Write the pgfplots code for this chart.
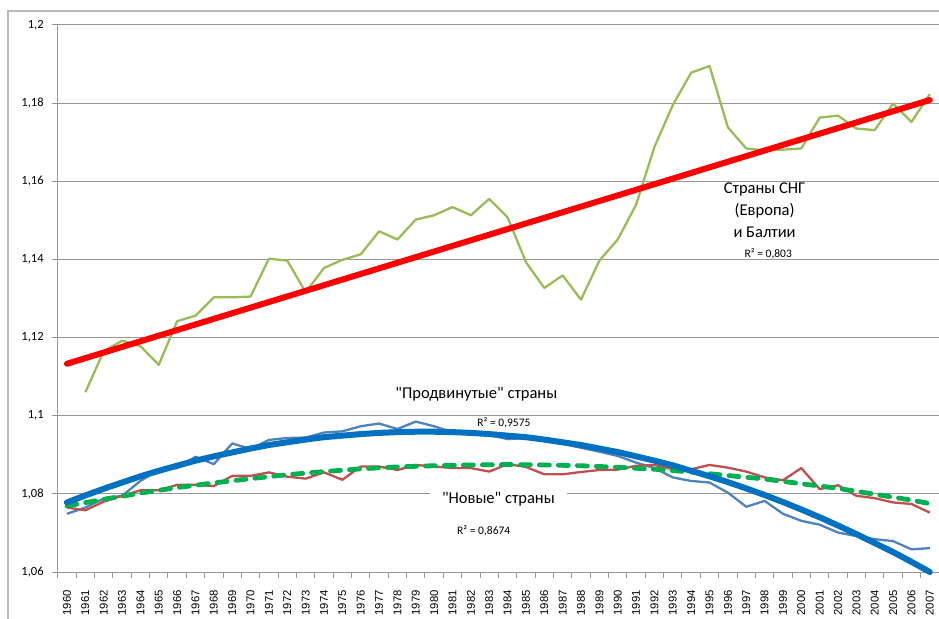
\documentclass[border=0pt]{standalone}
\usepackage{fontspec}
\setmainfont{Carlito}
\newfontfamily\calq{Carlito}
\newfontfamily\arialf{Liberation Sans}
\usepackage{pgfplots}
\pgfplotsset{compat=1.18}
\definecolor{cisg}{RGB}{155,187,89}
\definecolor{trendred}{RGB}{255,0,0}
\definecolor{advblue}{RGB}{79,129,189}
\definecolor{trendblue}{RGB}{0,112,192}
\definecolor{newred}{RGB}{192,80,77}
\definecolor{trendgreen}{RGB}{0,176,80}
\definecolor{gridc}{RGB}{150,150,150}
\definecolor{framec}{RGB}{185,185,185}
\begin{document}
\begin{tikzpicture}
\path[use as bounding box] (0bp,0bp) rectangle (939bp,619bp);
\draw[color=framec, line width=1.3bp] (8bp,-10bp) -- (8bp,608bp) -- (960bp,608bp);
\begin{axis}[
  at={(57.8bp,47bp)}, anchor=south west,
  scale only axis, width=881.2bp, height=547bp,
  xmin=1959.5, xmax=2007.5, ymin=1.06, ymax=1.2,
  axis lines*=left,
  axis line style={color=gridc, line width=1bp},
  xtick={1960,1961,...,2007},
  minor xtick={1959.5,1960.5,...,2007.5},
  ytick={1.06,1.08,1.1,1.12,1.14,1.16,1.18,1.2},
  tick align=outside,
  major tick length=6bp, minor tick length=6bp,
  major x tick style={draw=none},
  minor x tick style={color=gridc, line width=1bp},
  y tick style={color=gridc, line width=1bp},
  ymajorgrids,
  grid style={color=gridc, line width=1bp},
  /pgf/number format/assume math mode=true,
  xticklabel style={rotate=90, anchor=east, inner sep=0pt,
    font=\arialf\fontsize{11.3bp}{12bp}\selectfont,
    /pgf/number format/1000 sep={}},
  xticklabel shift=12bp,
  yticklabel style={anchor=east, inner sep=0pt,
    font=\fontsize{12.5bp}{14bp}\selectfont,
    /pgf/number format/use comma},
  yticklabel shift=8bp,
  clip=false,
]
% Strany SNG (Evropa) i Baltii
\addplot[color=cisg, line width=2.3bp, line join=round] coordinates {
(1961,1.1060) (1962,1.1165) (1963,1.1192) (1964,1.1178) (1965,1.1130)
(1966,1.1242) (1967,1.1256) (1968,1.1303) (1969,1.1303) (1970,1.1305)
(1971,1.1402) (1972,1.1397) (1973,1.1316) (1974,1.1378) (1975,1.1399)
(1976,1.1413) (1977,1.1472) (1978,1.1451) (1979,1.1502) (1980,1.1513)
(1981,1.1534) (1982,1.1513) (1983,1.1555) (1984,1.1508) (1985,1.1393)
(1986,1.1327) (1987,1.1359) (1988,1.1297) (1989,1.1397) (1990,1.1451)
(1991,1.1540) (1992,1.1688) (1993,1.1795) (1994,1.1878) (1995,1.1895)
(1996,1.1738) (1997,1.1684) (1998,1.1679) (1999,1.1681) (2000,1.1684)
(2001,1.1763) (2002,1.1768) (2003,1.1735) (2004,1.1731) (2005,1.1799)
(2006,1.1752) (2007,1.1823)};
% Prodvinutye strany
\addplot[color=advblue, line width=2.3bp, line join=round] coordinates {
(1960,1.0749) (1961,1.0765) (1962,1.0788) (1963,1.0795) (1964,1.0833)
(1965,1.0862) (1966,1.0866) (1967,1.0895) (1968,1.0876) (1969,1.0929)
(1970,1.0915) (1971,1.0938) (1972,1.0943) (1973,1.0944) (1974,1.0957)
(1975,1.0960) (1976,1.0973) (1977,1.0980) (1978,1.0966) (1979,1.0985)
(1980,1.0973) (1981,1.0957) (1982,1.0955) (1983,1.0951) (1984,1.0940)
(1985,1.0943) (1986,1.0935) (1987,1.0928) (1988,1.0918) (1989,1.0908)
(1990,1.0897) (1991,1.0880) (1992,1.0866) (1993,1.0842) (1994,1.0833)
(1995,1.0829) (1996,1.0803) (1997,1.0767) (1998,1.0782) (1999,1.0749)
(2000,1.0731) (2001,1.0721) (2002,1.0701) (2003,1.0692) (2004,1.0684)
(2005,1.0679) (2006,1.0658) (2007,1.0661)};
% Novye strany
\addplot[color=newred, line width=2.3bp, line join=round] coordinates {
(1960,1.0765) (1961,1.0758) (1962,1.0780) (1963,1.0795) (1964,1.0809)
(1965,1.0809) (1966,1.0823) (1967,1.0823) (1968,1.0820) (1969,1.0846)
(1970,1.0846) (1971,1.0855) (1972,1.0844) (1973,1.0839) (1974,1.0855)
(1975,1.0836) (1976,1.0870) (1977,1.0870) (1978,1.0861) (1979,1.0874)
(1980,1.0870) (1981,1.0866) (1982,1.0866) (1983,1.0857) (1984,1.0876)
(1985,1.0869) (1986,1.0850) (1987,1.0850) (1988,1.0856) (1989,1.0861)
(1990,1.0862) (1991,1.0872) (1992,1.0874) (1993,1.0863) (1994,1.0863)
(1995,1.0874) (1996,1.0867) (1997,1.0857) (1998,1.0842) (1999,1.0835)
(2000,1.0866) (2001,1.0812) (2002,1.0822) (2003,1.0795) (2004,1.0789)
(2005,1.0778) (2006,1.0774) (2007,1.0752)};
% linear trend (SNG)
\addplot[color=trendred, line width=6bp, line cap=round] coordinates {
(1960,1.1133) (2007,1.1808)};
% polynomial trend (Novye)
\addplot[color=trendgreen, line width=4.8bp, line cap=round, dash pattern=on 10bp off 9bp] coordinates {
(1960,1.0769) (1962,1.0786) (1964,1.0802) (1966,1.0816) (1968,1.0828)
(1970,1.0839) (1972,1.0849) (1974,1.0857) (1976,1.0864) (1978,1.0869)
(1980,1.0872) (1982,1.0874) (1984,1.0875) (1986,1.0874) (1988,1.0872)
(1990,1.0868) (1992,1.0863) (1994,1.0856) (1996,1.0847) (1998,1.0838)
(2000,1.0826) (2002,1.0814) (2004,1.0799) (2006,1.0784) (2007,1.0775)};
% polynomial trend (Prodvinutye)
\addplot[color=trendblue, line width=6bp, line cap=round, line join=round] coordinates {
(1960,1.0778) (1961,1.0796) (1962,1.0813) (1963,1.0829) (1964,1.0845)
(1965,1.0859) (1966,1.0872) (1967,1.0885) (1968,1.0896) (1969,1.0906)
(1970,1.0916) (1971,1.0925) (1972,1.0932) (1973,1.0939) (1974,1.0945)
(1975,1.0949) (1976,1.0953) (1977,1.0956) (1978,1.0958) (1979,1.0959)
(1980,1.0959) (1981,1.0958) (1982,1.0956) (1983,1.0953) (1984,1.0949)
(1985,1.0945) (1986,1.0939) (1987,1.0932) (1988,1.0925) (1989,1.0916)
(1990,1.0907) (1991,1.0896) (1992,1.0885) (1993,1.0873) (1994,1.0859)
(1995,1.0845) (1996,1.0830) (1997,1.0814) (1998,1.0797) (1999,1.0779)
(2000,1.0760) (2001,1.0740) (2002,1.0719) (2003,1.0697) (2004,1.0674)
(2005,1.0651) (2006,1.0626) (2007,1.0600)};
% labels
\node[align=center, font=\fontsize{16.5bp}{22bp}\selectfont] at (axis cs:1998.0,1.1526)
  {Страны СНГ\\(Европа)\\и Балтии};
\node[font=\fontsize{11.5bp}{13bp}\selectfont] at (axis cs:1998.2,1.1415) {R² = 0,803};
\node[font=\calq\fontsize{16.5bp}{20bp}\selectfont] at (axis cs:1982.3,1.1056) {"Продвинутые" страны};
\node[font=\fontsize{11.5bp}{13bp}\selectfont] at (axis cs:1983.8,1.0982) {R² = 0,9575};
\node[fill=white, inner xsep=12bp, inner ysep=1bp, font=\calq\fontsize{16.5bp}{20bp}\selectfont] at (axis cs:1983.5,1.0787) {"Новые" страны};
\node[font=\fontsize{11.5bp}{13bp}\selectfont] at (axis cs:1982.7,1.0705) {R² = 0,8674};
\end{axis}
\end{tikzpicture}
\end{document}
